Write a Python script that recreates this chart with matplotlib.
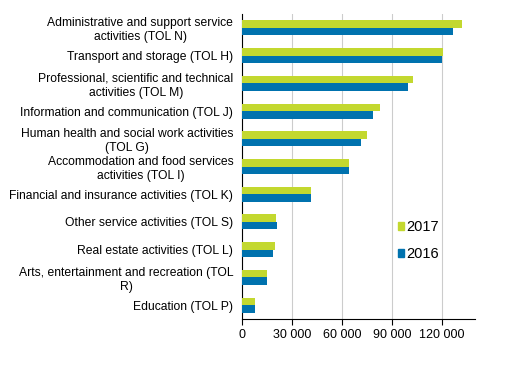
import matplotlib.pyplot as plt
from matplotlib.patches import Patch
from matplotlib.ticker import FuncFormatter
import numpy as np

plt.rcParams['font.family'] = ['Liberation Sans', 'DejaVu Sans']

# === 数据（从上到下） ===
categories = [
    "Administrative and support service\nactivities (TOL N)",
    "Transport and storage (TOL H)",
    "Professional, scientific and technical\nactivities (TOL M)",
    "Information and communication (TOL J)",
    "Human health and social work activities\n(TOL G)",
    "Accommodation and food services\nactivities (TOL I)",
    "Financial and insurance activities (TOL K)",
    "Other service activities (TOL S)",
    "Real estate activities (TOL L)",
    "Arts, entertainment and recreation (TOL\nR)",
    "Education (TOL P)",
]
values_2017 = [132000, 120600, 102600, 82800, 75000, 64300, 41400, 20400, 19800, 15000, 7800]
values_2016 = [126600, 120200, 99600, 78600, 71400, 64400, 41400, 21000, 18600, 15000, 7800]

green = "#c3d82f"
blue = "#0072ae"

fig = plt.figure(figsize=(5.11, 3.78), dpi=100)
ax = fig.add_axes([0.473, 0.156, 0.457, 0.807])

n = len(categories)
y = np.arange(n)[::-1]
h = 0.27
ax.barh(y + h / 2, values_2017, height=h, color=green, zorder=3)
ax.barh(y - h / 2, values_2016, height=h, color=blue, zorder=3)

ax.set_ylim(-0.5, n - 0.5)
ax.set_xlim(0, 140000)
ax.set_xticks([0, 30000, 60000, 90000, 120000])
ax.xaxis.set_major_formatter(FuncFormatter(lambda v, p: f"{int(v):,}".replace(",", " ")))
ax.set_yticks(y)
ax.set_yticklabels(categories, multialignment="center")
ax.tick_params(axis="y", length=0, pad=6, labelsize=8.7)
ax.tick_params(axis="x", length=4, width=0.8, labelsize=9, pad=3)

ax.grid(axis="x", color="#cccccc", lw=0.8, zorder=0)
for s in ["top", "right"]:
    ax.spines[s].set_visible(False)
ax.spines["left"].set_linewidth(0.8)
ax.spines["bottom"].set_linewidth(0.8)

handles = [Patch(color=green, label="2017"), Patch(color=blue, label="2016")]
ax.legend(handles=handles, loc="center left", bbox_to_anchor=(0.669, 0.257),
          frameon=False, fontsize=10.5, handlelength=0.4, handleheight=0.4,
          handletextpad=0.15, labelspacing=0.9, borderpad=0, borderaxespad=0)

fig.savefig("out.png", dpi=100)
